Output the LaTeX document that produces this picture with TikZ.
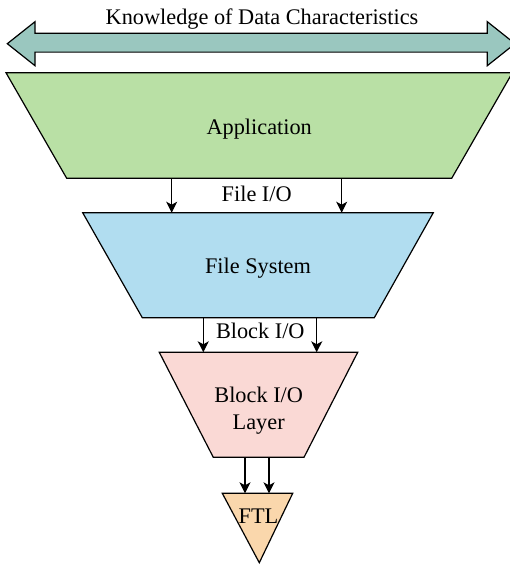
\documentclass[tikz,border=0pt]{standalone}
\usepackage{fontspec}
\setmainfont{Liberation Serif}
\usetikzlibrary{arrows.meta,positioning}
\definecolor{appgreen}{HTML}{B9E0A5}
\definecolor{fsblue}{HTML}{B1DDF0}
\definecolor{blkpink}{HTML}{FAD9D5}
\definecolor{ftlorange}{HTML}{FAD7AC}
\definecolor{knowteal}{HTML}{9AC7BF}
\tikzstyle{Layer} = [draw, line join=miter]
\tikzstyle{Text} = [inner sep=1pt, align=center]

\begin{document}
\begin{tikzpicture}[x=1pt, y=-1pt, line width=1.2pt, font=\fontsize{22.3}{27}\selectfont, >={Stealth[length=11pt,width=11pt,inset=3pt]}]
    \useasboundingbox (0,0) rectangle (509,565);
    % knowledge arrow across the top
    \draw[Layer, fill=knowteal] (7.3,43.7) -- (35,21.7) -- (35,33.3) -- (487.3,33.3) -- (487.3,21.7) -- (515,43.7)
        -- (487.3,65.7) -- (487.3,52.1) -- (35,52.1) -- (35,65.7) -- cycle;
    \node[Text] (knowledge) at (262,19) {Knowledge of Data Characteristics};
    % the layers
    \draw[Layer, fill=appgreen]  (6,72.7) -- (512.4,72.7) -- (451.7,178.3) -- (66.7,178.3) -- cycle;
    \draw[Layer, fill=fsblue]    (82.7,212.7) -- (433.3,212.7) -- (374.3,317.7) -- (142.3,317.7) -- cycle;
    \draw[Layer, fill=blkpink]   (159.3,352.3) -- (357.7,352.3) -- (304,457.3) -- (213.3,457.3) -- cycle;
    \draw[Layer, fill=ftlorange] (222.3,493.3) -- (292.7,493.3) -- (259.3,562.7) -- cycle;
    \node[Text] (app) at (259.2,129.5) {Application};
    \node[Text] (fs)  at (258,268) {File System};
    \node[Text] (blk) at (258.7,410.5) {Block I/O\\Layer};
    \node[Text] (ftl) at (258.5,516) {FTL};
    % edge points of the layers
    \coordinate (appS) at (259,178.3);
    \coordinate (fsN)  at (258,212.7);
    \coordinate (fsS)  at (258,317.7);
    \coordinate (blkN) at (258.5,352.3);
    \coordinate (blkS) at (258.5,457.3);
    \coordinate (ftlN) at (257.5,493.3);
    % requests between layers
    \draw[->] ([xshift=-87.3pt]appS) -- ([xshift=-87.3pt]appS |- fsN);
    \draw[->] ([xshift=82.7pt]appS)  -- ([xshift=82.7pt]appS |- fsN);
    \node[Text, below=6pt of appS, xshift=-2.3pt] (fileio) {File I/O};
    \draw[->] ([xshift=-54.7pt]fsS) -- ([xshift=-54.7pt]fsS |- blkN);
    \draw[->] ([xshift=58.7pt]fsS)  -- ([xshift=58.7pt]fsS |- blkN);
    \node[Text, below=4pt of fsS, xshift=2.3pt] (blockio) {Block I/O};
    \draw[->] ([xshift=-13.5pt]blkS) -- ([xshift=-13.5pt]blkS |- ftlN);
    \draw[->] ([xshift=10.5pt]blkS)  -- ([xshift=10.5pt]blkS |- ftlN);
  \end{tikzpicture}
\end{document}
